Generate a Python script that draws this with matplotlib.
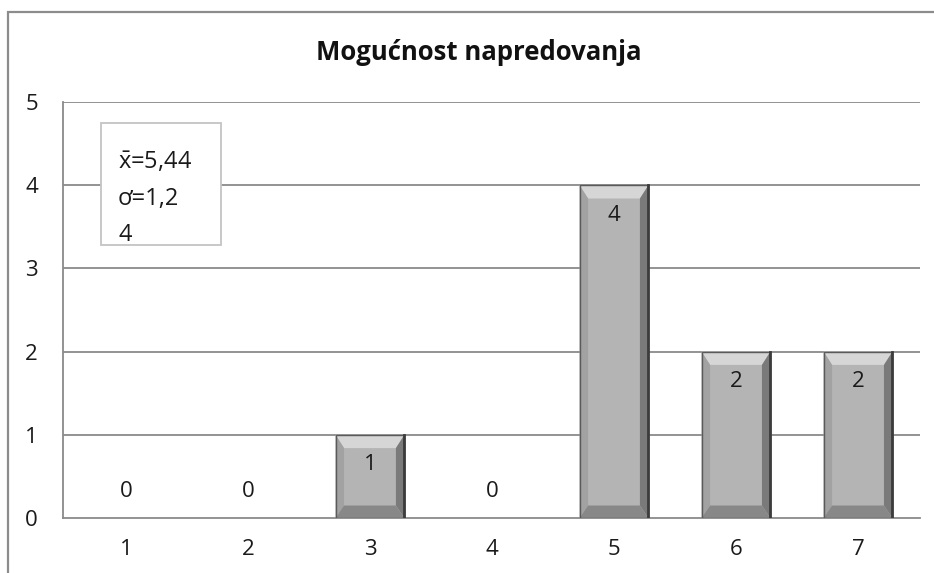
import numpy as np
import matplotlib.pyplot as plt
from matplotlib.patches import Polygon, Rectangle

plt.rcParams['font.family'] = ['Open Sans', 'DejaVu Sans']
plt.rcParams['mathtext.fontset'] = 'custom'
plt.rcParams['mathtext.rm'] = 'Open Sans'

categories = [1, 2, 3, 4, 5, 6, 7]
counts = [0, 0, 1, 0, 4, 2, 2]
title = 'Mogućnost napredovanja'
stats_lines = [r'$\mathregular{\bar{x}}$=5,44', 'ơ=1,2', '4']

fig = plt.figure(figsize=(9.34, 5.73), dpi=100)
# outer chart frame
fig.patches.append(Rectangle((8 / 934, -0.01), 1.0, (573 - 12) / 573 + 0.01,
                             transform=fig.transFigure, fill=False,
                             edgecolor='#8c8c8c', linewidth=1.6))

ax = fig.add_axes([63 / 934, 55 / 573, 857 / 934, 416 / 573])
ax.set_xlim(0.484, 7.508)
ax.set_ylim(0, 5)

grid_c = '#8a8a8a'
for yv in range(1, 6):
    ax.axhline(yv, color=grid_c, linewidth=1.3, zorder=1)
for s in ['top', 'right']:
    ax.spines[s].set_visible(False)
ax.spines['left'].set_color(grid_c)
ax.spines['bottom'].set_color(grid_c)
ax.spines['left'].set_linewidth(1.3)
ax.spines['bottom'].set_linewidth(1.3)

w = 0.565
dx, dy_top, dy_bot = 0.07, 0.16, 0.15
bars = ax.bar(categories, counts, width=w, color='#b4b4b4', edgecolor='none', zorder=3)
for b, v in zip(bars, counts):
    if v <= 0:
        continue
    x0, x1 = b.get_x(), b.get_x() + b.get_width()
    y0, y1 = 0, v
    faces = [
        ([(x0, y1), (x1, y1), (x1 - dx, y1 - dy_top), (x0 + dx, y1 - dy_top)], '#d6d6d6'),
        ([(x0, y0), (x0, y1), (x0 + dx, y1 - dy_top), (x0 + dx, y0 + dy_bot)], '#a2a2a2'),
        ([(x1, y0), (x1, y1), (x1 - dx, y1 - dy_top), (x1 - dx, y0 + dy_bot)], '#7a7a7a'),
        ([(x0, y0), (x1, y0), (x1 - dx, y0 + dy_bot), (x0 + dx, y0 + dy_bot)], '#888888'),
    ]
    for pts, c in faces:
        ax.add_patch(Polygon(pts, closed=True, facecolor=c, edgecolor='none', zorder=4))
    ax.add_patch(Rectangle((x0, y0), x1 - x0, y1 - y0, fill=False,
                           edgecolor='#5a5a5a', linewidth=1.0, zorder=5))
    ax.plot([x1, x1], [y0, y1], color='#3c3c3c', linewidth=2.0, zorder=5)

for c, v in zip(categories, counts):
    ypos = v - 0.36 if v > 0 else 0.32
    ax.text(c, ypos, str(v), ha='center', va='center', fontsize=16, color='#1a1a1a', zorder=6)

ax.set_xticks(categories)
ax.set_yticks(range(0, 6))
ax.tick_params(axis='both', length=0, labelsize=16, colors='#1a1a1a')
ax.tick_params(axis='y', pad=18)
ax.tick_params(axis='x', pad=15)

fig.text(479 / 934, 1 - 53 / 573, title, ha='center', va='center',
         fontsize=18.5, fontweight='bold', color='#111111')

# stats box
fig.patches.append(Rectangle((101 / 934, 1 - 245 / 573), 120 / 934, 122 / 573,
                             transform=fig.transFigure, facecolor='white',
                             edgecolor='#c4c4c4', linewidth=1.3, zorder=10))
for i, line in enumerate(stats_lines):
    fig.text(118 / 934, 1 - (163 + 36 * i) / 573, line, ha='left', va='center',
             fontsize=17, color='#1a1a1a', zorder=11)

fig.savefig('out.png', dpi=100)
